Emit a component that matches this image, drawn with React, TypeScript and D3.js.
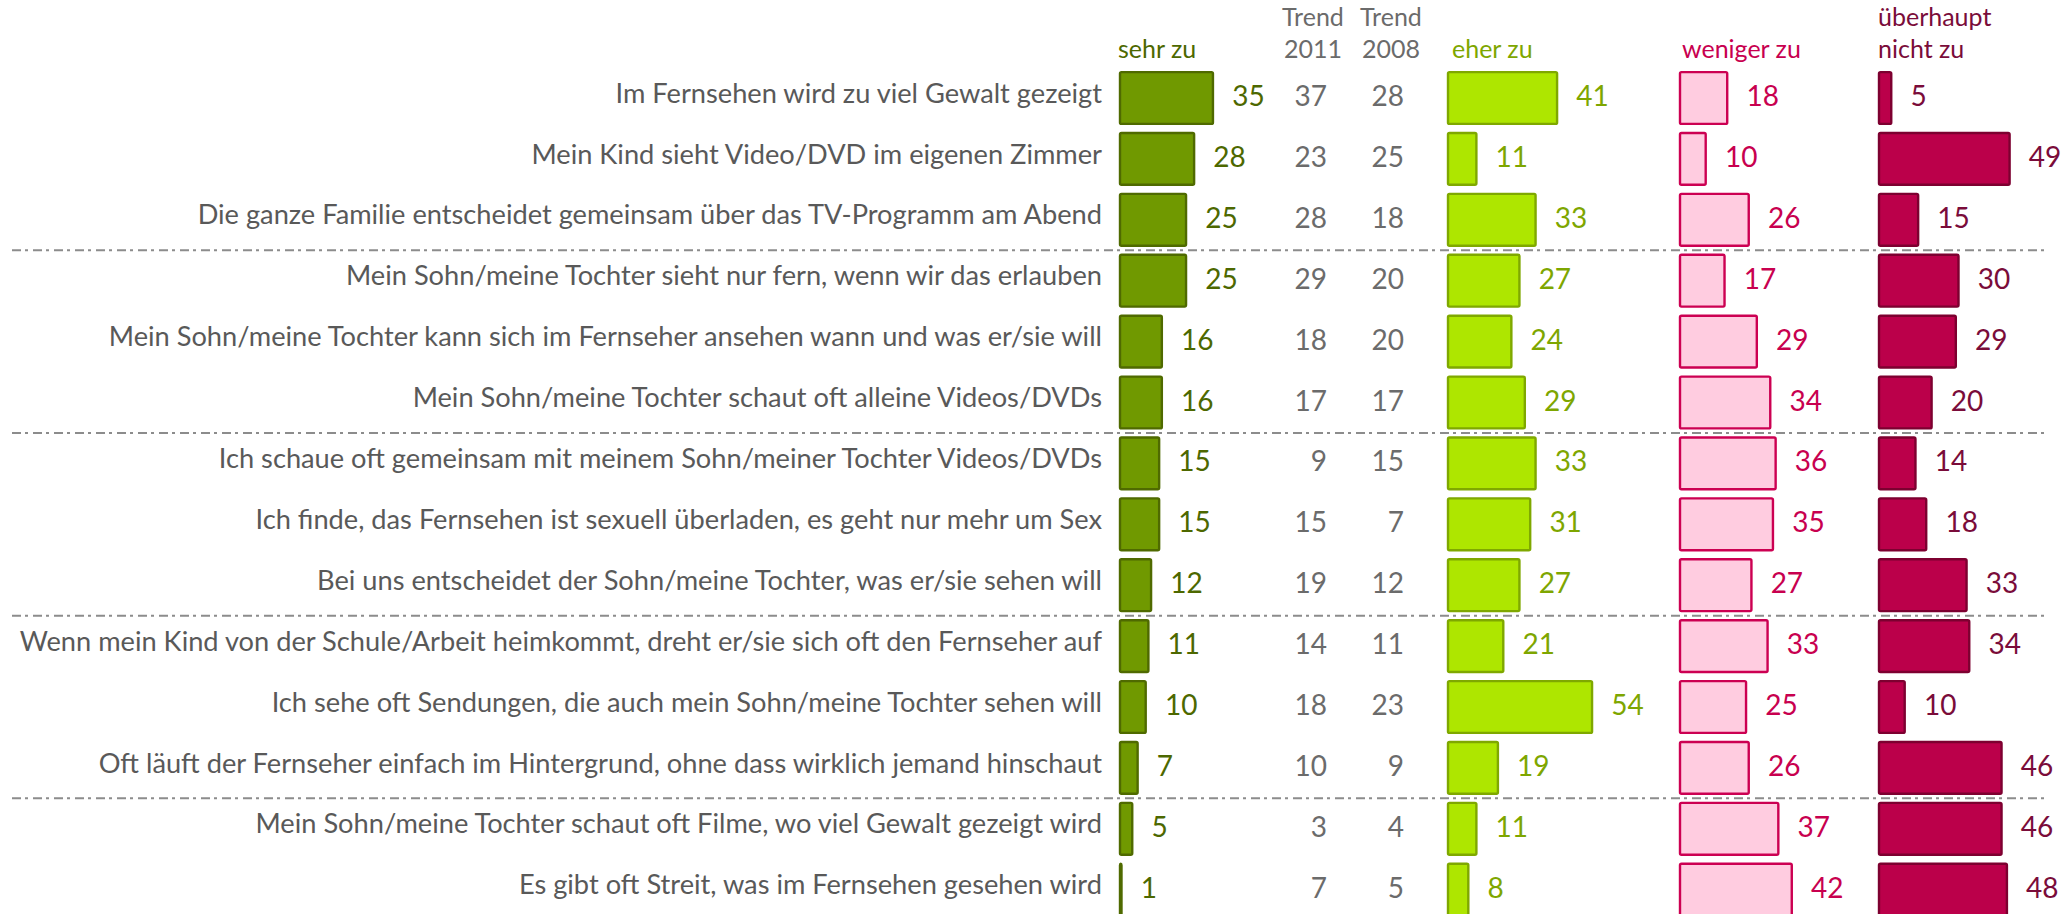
import React, { useLayoutEffect, useRef, useState } from "react";
import * as d3 from "d3";

const rowLabels = [
  "Im Fernsehen wird zu viel Gewalt gezeigt",
  "Mein Kind sieht Video/DVD im eigenen Zimmer",
  "Die ganze Familie entscheidet gemeinsam über das TV-Programm am Abend",
  "Mein Sohn/meine Tochter sieht nur fern, wenn wir das erlauben",
  "Mein Sohn/meine Tochter kann sich im Fernseher ansehen wann und was er/sie will",
  "Mein Sohn/meine Tochter schaut oft alleine Videos/DVDs",
  "Ich schaue oft gemeinsam mit meinem Sohn/meiner Tochter Videos/DVDs",
  "Ich finde, das Fernsehen ist sexuell überladen, es geht nur mehr um Sex",
  "Bei uns entscheidet der Sohn/meine Tochter, was er/sie sehen will",
  "Wenn mein Kind von der Schule/Arbeit heimkommt, dreht er/sie sich oft den Fernseher auf",
  "Ich sehe oft Sendungen, die auch mein Sohn/meine Tochter sehen will",
  "Oft läuft der Fernseher einfach im Hintergrund, ohne dass wirklich jemand hinschaut",
  "Mein Sohn/meine Tochter schaut oft Filme, wo viel Gewalt gezeigt wird",
  "Es gibt oft Streit, was im Fernsehen gesehen wird",
];

const sehrZu = [35, 28, 25, 25, 16, 16, 15, 15, 12, 11, 10, 7, 5, 1];
const trend2011 = [37, 23, 28, 29, 18, 17, 9, 15, 19, 14, 18, 10, 3, 7];
const trend2008 = [28, 25, 18, 20, 20, 17, 15, 7, 12, 11, 23, 9, 4, 5];
const eherZu = [41, 11, 33, 27, 24, 29, 33, 31, 27, 21, 54, 19, 11, 8];
const wenigerZu = [18, 10, 26, 17, 29, 34, 36, 35, 27, 33, 25, 26, 37, 42];
const ueberhauptNichtZu = [5, 49, 15, 30, 29, 20, 14, 18, 33, 34, 10, 46, 46, 48];

const separatorsAfter = [2, 5, 8, 11];

const FONT = "Lato, 'Open Sans', sans-serif";

export default function App() {
  const W = 2063;
  const H = 914;
  const longestRef = useRef<SVGTextElement>(null);
  const [labelFs, setLabelFs] = useState(25);

  const y = d3
    .scaleBand<number>()
    .domain(d3.range(rowLabels.length))
    .range([67.55, 920.15])
    .paddingInner(0.11)
    .paddingOuter(0.055);
  const x = d3.scaleLinear().domain([0, 100]).range([0, 269]);

  const longestIdx = d3.maxIndex(rowLabels, (d) => d.length);
  const labelRight = 1102;
  const targetLongest = 1083;

  useLayoutEffect(() => {
    const el = longestRef.current;
    if (!el) return;
    const w = el.getComputedTextLength();
    if (w > 0) {
      const nf = (labelFs * targetLongest) / w;
      if (Math.abs(nf - labelFs) > 0.1) setLabelFs(nf);
    }
  }, [labelFs]);

  const series = [
    { key: "sehr", values: sehrZu, x0: 1120, fill: "#709900", stroke: "#4f6a00", text: "#4d6800" },
    { key: "eher", values: eherZu, x0: 1448, fill: "#aee600", stroke: "#7fa800", text: "#7ea600" },
    { key: "weniger", values: wenigerZu, x0: 1680, fill: "#ffcce0", stroke: "#cc0052", text: "#c8004f" },
    { key: "ueber", values: ueberhauptNichtZu, x0: 1879, fill: "#bb004a", stroke: "#7d0030", text: "#7a0c3a" },
  ];

  const valFs = 28;
  const headFs = 25;
  const step = y.step();

  return (
    <svg
      width={W}
      height={H}
      style={{ position: "absolute", left: 0, top: 0, background: "#fff" }}
      fontFamily={FONT}
    >
      {/* headers */}
      <g fontSize={headFs}>
        <text x={1118} y={58} fill="#4d6800">sehr zu</text>
        <text x={1313} y={26} fill="#6b6b6b" textAnchor="middle">Trend</text>
        <text x={1313} y={58} fill="#6b6b6b" textAnchor="middle">2011</text>
        <text x={1391} y={26} fill="#6b6b6b" textAnchor="middle">Trend</text>
        <text x={1391} y={58} fill="#6b6b6b" textAnchor="middle">2008</text>
        <text x={1452} y={58} fill="#7ea600">eher zu</text>
        <text x={1682} y={58} fill="#c8004f">weniger zu</text>
        <text x={1878} y={26} fill="#7a0c3a">überhaupt</text>
        <text x={1878} y={58} fill="#7a0c3a">nicht zu</text>
      </g>

      {/* separators */}
      {separatorsAfter.map((i) => {
        const yy = (y(i) as number) + y.bandwidth() + (step - y.bandwidth()) / 2;
        return (
          <line
            key={i}
            x1={12}
            x2={2047}
            y1={yy}
            y2={yy}
            stroke="#8c8c8c"
            strokeWidth={2}
            strokeDasharray="9 4 3 5"
          />
        );
      })}

      {/* row labels */}
      <g fontSize={labelFs} fill="#595959" textAnchor="end">
        {rowLabels.map((lab, i) => {
          const cy = (y(i) as number) + y.bandwidth() / 2;
          return (
            <text key={i} ref={i === longestIdx ? longestRef : undefined} x={labelRight} y={cy + 4.6}>
              {lab}
            </text>
          );
        })}
      </g>

      {/* bars */}
      {series.map((s) => (
        <g key={s.key}>
          {s.values.map((v, i) => {
            const top = y(i) as number;
            const w = x(v);
            return (
              <g key={i}>
                <rect
                  x={s.x0}
                  y={top + 1.2}
                  width={Math.max(w - 1.2, 0.8)}
                  height={y.bandwidth() - 2.4}
                  fill={s.fill}
                  stroke={s.stroke}
                  strokeWidth={2.4}
                  rx={1.5}
                />
                <text
                  x={s.x0 + w + 18}
                  y={top + y.bandwidth() / 2 + 8}
                  fontSize={valFs}
                  fill={s.text}
                >
                  {v}
                </text>
              </g>
            );
          })}
        </g>
      ))}

      {/* trend columns */}
      <g fontSize={valFs} fill="#6b6b6b" textAnchor="end">
        {trend2011.map((v, i) => (
          <text key={"a" + i} x={1327} y={(y(i) as number) + y.bandwidth() / 2 + 8}>
            {v}
          </text>
        ))}
        {trend2008.map((v, i) => (
          <text key={"b" + i} x={1404} y={(y(i) as number) + y.bandwidth() / 2 + 8}>
            {v}
          </text>
        ))}
      </g>
    </svg>
  );
}
